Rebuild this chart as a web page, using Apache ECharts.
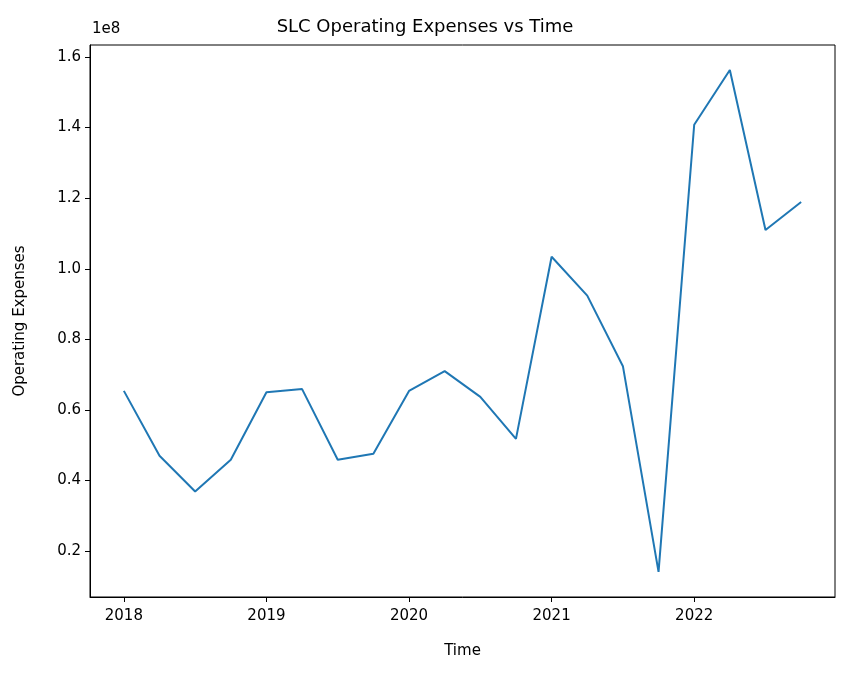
<!DOCTYPE html>
<html><head><meta charset="utf-8">
<script src="https://cdn.jsdelivr.net/npm/echarts@6/dist/echarts.min.js"></script>
<style>body{margin:0}#panel{width:850px;height:678px}</style>
</head><body><div id="panel"></div>
<script>
var times = [2018, 2018.25, 2018.5, 2018.75, 2019, 2019.25, 2019.5, 2019.75,
             2020, 2020.25, 2020.5, 2020.75, 2021, 2021.25, 2021.5, 2021.75,
             2022, 2022.25, 2022.5, 2022.75];
var expenses = [0.654, 0.470, 0.369, 0.459, 0.650, 0.659, 0.459, 0.476,
                0.654, 0.710, 0.637, 0.518, 1.034, 0.924, 0.724, 0.141,
                1.408, 1.563, 1.110, 1.189].map(function (v) { return v * 1e8; });
var xTicks = [2018, 2019, 2020, 2021, 2022];
var yTicks = [0.2, 0.4, 0.6, 0.8, 1.0, 1.2, 1.4, 1.6].map(function (v) { return v * 1e8; });

var font = 'DejaVu Sans';
var myChart = echarts.init(document.getElementById('panel'));
myChart.setOption({
    backgroundColor: '#fff',
    animation: false,
    title: {
        text: 'SLC Operating Expenses vs Time', left: 'center', top: 13,
        textStyle: { fontFamily: font, fontSize: 18, fontWeight: 'normal', color: '#000' }
    },
    graphic: [
        { type: 'text', left: 92, top: 22, style: { text: '1e8', font: '15px DejaVu Sans', fill: '#000' } },
        { type: 'rect', shape: { x: 90, y: 45, width: 745, height: 552 }, style: { fill: 'none', stroke: '#000', lineWidth: 1 }, silent: true }
    ],
    grid: { left: 90, right: 15, top: 45, bottom: 81 },
    xAxis: {
        type: 'value', min: 2017.7625, max: 2022.9875,
        name: 'Time', nameLocation: 'middle', nameGap: 47,
        nameTextStyle: { fontFamily: font, fontSize: 15, color: '#000' },
        splitLine: { show: false },
        axisLine: { onZero: false, lineStyle: { color: '#000' } },
        axisTick: { customValues: xTicks, length: 5, lineStyle: { color: '#000' } },
        axisLabel: { customValues: xTicks, fontFamily: font, fontSize: 15, color: '#000', margin: 12,
            formatter: function (v) { return String(v); } }
    },
    yAxis: {
        type: 'value', min: 0.07e8, max: 1.634e8,
        name: 'Operating Expenses', nameLocation: 'middle', nameGap: 62,
        nameTextStyle: { fontFamily: font, fontSize: 15, color: '#000' },
        splitLine: { show: false },
        axisLine: { show: true, lineStyle: { color: '#000' } },
        axisTick: { show: true, customValues: yTicks, length: 5, lineStyle: { color: '#000' } },
        axisLabel: {
            customValues: yTicks, fontFamily: font, fontSize: 15, color: '#000', margin: 9,
            formatter: function (v) { return (v / 1e8).toFixed(1); }
        }
    },
    series: [{
        type: 'line', showSymbol: false,
        data: times.map(function (t, i) { return [t, expenses[i]]; }),
        lineStyle: { color: '#1f77b4', width: 2 }
    }]
});
</script>
</body></html>
